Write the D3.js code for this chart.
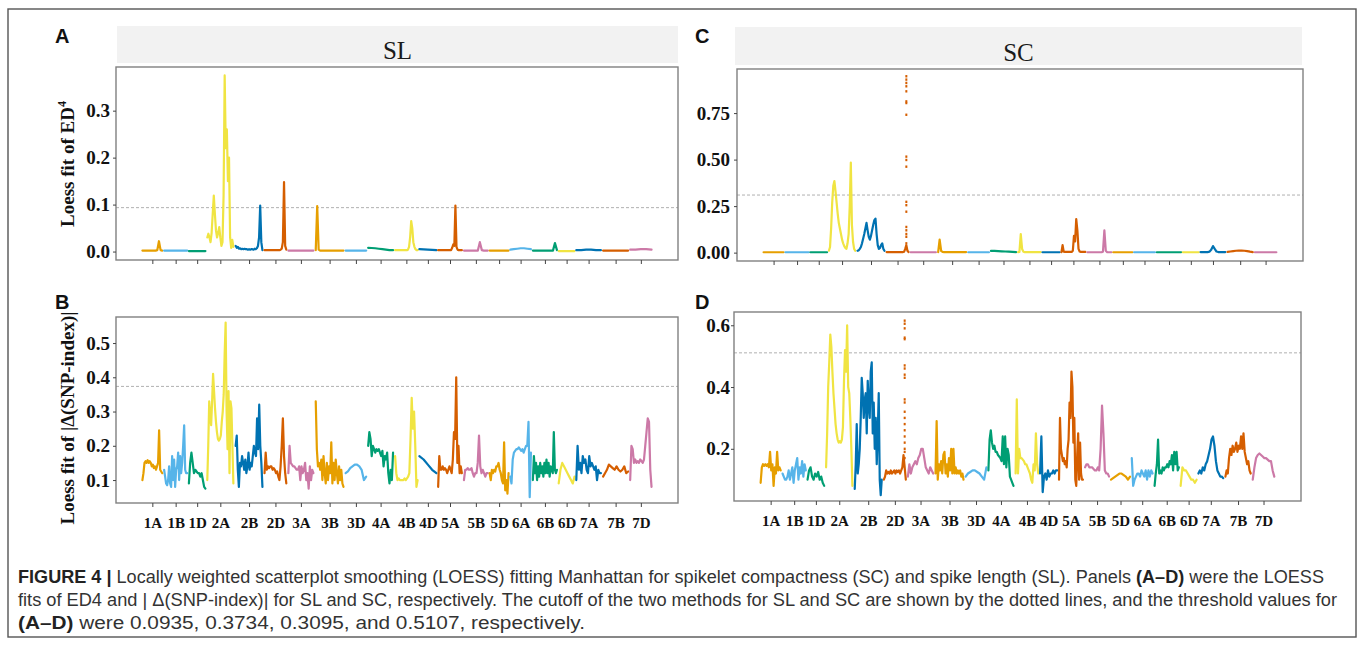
<!DOCTYPE html>
<html><head><meta charset="utf-8">
<script src="https://cdn.jsdelivr.net/npm/d3@7"></script>
<style>body{margin:0;background:#fff} svg{display:block}</style>
</head><body>
<svg id="fig" width="1358" height="645"></svg>
<script>
// ---------------- data ----------------
const chromosomes = ["1A","1B","1D","2A","2B","2D","3A","3B","3D","4A","4B","4D","5A","5B","5D","6A","6B","6D","7A","7B","7D"];
const chromLengthMb = [594,690,495,781,801,652,751,831,616,745,674,510,710,714,566,618,721,474,737,751,639];
const palette = ["#E69F00","#56B4E9","#009E73","#F0E442","#0072B2","#D55E00","#CC79A7"];
const thresholds = [0.0935, 0.3734, 0.3095, 0.5107];
const yTicksED4SL = [0, 0.1, 0.2, 0.3];
const yTicksSnpSL = [0.1, 0.2, 0.3, 0.4, 0.5];
const yTicksED4SC = [0, 0.25, 0.5, 0.75];
const yTicksSnpSC = [0.2, 0.4, 0.6];

// Loess fit of ED4, SL (panel A)
const ed4SL = [
 [0.002,0.002,0.002,0.002,0.002,0.002,0.002,0.002,0.002,0.003,0.022,0.003,0.002],
 [0.002,0.002,0.002,0.002,0.002,0.002],
 [0.001,0.001,0.001,0.001,0.001],
 [0.03,0.038,0.03,0.02,0.04,0.08,0.119,0.08,0.045,0.03,0.04,0.052,0.03,0.012,0.02,0.12,0.375,0.22,0.26,0.15,0.2,0.03,0.008,0.025,0.01],
 [0.012,0.008,0.01,0.006,0.007,0.005,0.006,0.005,0.006,0.005,0.005,0.004,0.005,0.004,0.005,0.005,0.004,0.006,0.005,0.007,0.012,0.03,0.098,0.02,0.003],
 [0.003,0.003,0.003,0.003,0.003,0.003,0.003,0.003,0.003,0.003,0.003,0.003,0.003,0.003,0.004,0.006,0.02,0.148,0.012,0.004],
 [0.002,0.002,0.002,0.002,0.002,0.002],
 [0.003,0.097,0.004,0.002,0.002,0.002,0.002,0.002,0.002,0.002,0.002,0.002,0.002,0.002,0.002,0.002,0.002,0.002,0.002,0.002],
 [0.002,0.002,0.002,0.002,0.002,0.002],
 [0.008,0.0075,0.007,0.006,0.005,0.004,0.003,0.003],
 [0.003,0.003,0.003,0.003,0.003,0.003,0.003,0.003,0.003,0.003,0.003,0.003,0.004,0.01,0.03,0.065,0.05,0.02,0.01,0.005,0.003,0.003],
 [0.005,0.0045,0.004,0.0035,0.003],
 [0.003,0.003,0.003,0.003,0.003,0.003,0.003,0.003,0.003,0.003,0.003,0.003,0.003,0.008,0.015,0.012,0.098,0.01,0.004,0.003,0.003,0.003,0.003],
 [0.002,0.002,0.002,0.002,0.002,0.002,0.002,0.002,0.02,0.003,0.002,0.002,0.002],
 [0.002,0.002,0.002,0.002,0.002],
 [0.004,0.005,0.006,0.007,0.007,0.006,0.005],
 [0.002,0.002,0.002,0.002,0.002,0.002,0.002,0.002,0.002,0.002,0.002,0.018,0.003],
 [0.001,0.001,0.001,0.001,0.001],
 [0.003,0.003,0.004,0.004,0.003,0.003],
 [0.002,0.002,0.002,0.002,0.002,0.002],
 [0.004,0.004,0.005,0.005,0.004]
];

// Loess fit of |delta(SNP-index)|, SL (panel B)
const snpSL = [
 [0.10,0.12,0.15,0.155,0.15,0.158,0.15,0.155,0.15,0.14,0.145,0.135,0.14,0.13,0.14,0.15,0.245,0.13,0.125,0.12],
 [0.13,0.11,0.09,0.085,0.10,0.14,0.09,0.08,0.17,0.10,0.16,0.08,0.13,0.14,0.18,0.10,0.17,0.12,0.15,0.20,0.26,0.13,0.12,0.12],
 [0.09,0.15,0.18,0.15,0.12,0.13,0.125,0.12,0.12,0.11,0.12,0.10,0.08,0.075],
 [0.10,0.20,0.33,0.29,0.26,0.33,0.41,0.36,0.31,0.27,0.24,0.22,0.215,0.22,0.23,0.27,0.30,0.35,0.47,0.56,0.30,0.19,0.36,0.12,0.33,0.31,0.20,0.09],
 [0.20,0.23,0.13,0.08,0.15,0.14,0.17,0.15,0.13,0.16,0.12,0.14,0.18,0.13,0.15,0.14,0.17,0.20,0.18,0.17,0.28,0.19,0.32,0.20,0.15,0.08],
 [0.12,0.18,0.13,0.14,0.135,0.14,0.14,0.13,0.135,0.13,0.12,0.125,0.11,0.10,0.14,0.20,0.28,0.17,0.12,0.09],
 [0.12,0.20,0.15,0.145,0.14,0.14,0.135,0.13,0.13,0.14,0.10,0.14,0.12,0.13,0.15,0.10,0.12,0.075,0.14,0.10,0.13,0.12],
 [0.33,0.19,0.14,0.15,0.13,0.16,0.10,0.17,0.12,0.09,0.15,0.10,0.14,0.12,0.21,0.09,0.15,0.10,0.16,0.12,0.09,0.14,0.10,0.13,0.09,0.08],
 [0.12,0.125,0.135,0.14,0.145,0.145,0.14,0.13,0.10,0.11],
 [0.20,0.24,0.22,0.17,0.20,0.19,0.18,0.19,0.185,0.19,0.18,0.17,0.185,0.14,0.17,0.16,0.18,0.12,0.09,0.13,0.10,0.18],
 [0.17,0.12,0.10,0.105,0.10,0.10,0.10,0.10,0.105,0.10,0.105,0.11,0.12,0.22,0.34,0.25,0.30,0.20,0.08,0.10],
 [0.17,0.16,0.145,0.13,0.12],
 [0.08,0.17,0.13,0.13,0.14,0.13,0.135,0.13,0.12,0.13,0.14,0.13,0.12,0.16,0.24,0.22,0.40,0.15,0.20,0.12,0.14,0.12],
 [0.10,0.13,0.13,0.135,0.13,0.13,0.135,0.12,0.11,0.12,0.12,0.15,0.23,0.14,0.12,0.13,0.12,0.11,0.12,0.12],
 [0.12,0.10,0.13,0.12,0.13,0.125,0.14,0.14,0.15,0.13,0.12,0.10,0.09,0.21,0.07,0.10,0.06,0.12],
 [0.11,0.09,0.16,0.18,0.185,0.19,0.19,0.195,0.19,0.185,0.19,0.18,0.19,0.20,0.20,0.27,0.05,0.18],
 [0.10,0.17,0.12,0.15,0.10,0.14,0.11,0.15,0.12,0.14,0.11,0.15,0.12,0.16,0.12,0.15,0.11,0.14,0.13,0.12,0.24,0.13,0.12,0.13],
 [0.09,0.13,0.15,0.14,0.13,0.12,0.11,0.10,0.09,0.11],
 [0.10,0.20,0.13,0.15,0.12,0.17,0.15,0.16,0.13,0.12,0.17,0.14,0.15,0.14,0.13,0.14,0.10,0.13,0.12,0.12],
 [0.11,0.12,0.13,0.145,0.14,0.135,0.13,0.14,0.13,0.125,0.13,0.14,0.12,0.125],
 [0.10,0.20,0.19,0.15,0.16,0.15,0.155,0.15,0.16,0.155,0.15,0.16,0.20,0.24,0.28,0.27,0.13,0.08]
];

// Loess fit of ED4, SC (panel C)
const ed4SC = [
 [0.002,0.002,0.002,0.002,0.002,0.002],
 [0.002,0.002,0.002,0.002,0.002,0.002],
 [0.002,0.002,0.002,0.002,0.002],
 [0.01,0.03,0.13,0.27,0.36,0.385,0.33,0.27,0.21,0.16,0.13,0.10,0.07,0.05,0.035,0.025,0.02,0.05,0.10,0.25,0.484,0.15,0.06,0.02,0.01],
 [0.01,0.012,0.02,0.03,0.05,0.075,0.10,0.13,0.16,0.12,0.085,0.07,0.09,0.12,0.15,0.175,0.183,0.10,0.04,0.02,0.025,0.04,0.05,0.02,0.01],
 [0.003,0.003,0.003,0.003,0.003,0.003,0.003,0.003,0.003,0.003,0.003,0.003,0.003,0.003,0.003,0.003,0.005,0.02,0.04,0.01,0.003],
 [0.002,0.002,0.002,0.002,0.002,0.002],
 [0.003,0.07,0.01,0.004,0.003,0.003,0.003,0.003,0.003,0.003,0.003,0.003,0.003,0.003,0.003,0.003,0.003,0.003,0.003,0.003],
 [0.002,0.002,0.002,0.002,0.002,0.002],
 [0.009,0.009,0.008,0.007,0.006,0.005,0.004,0.003],
 [0.003,0.004,0.10,0.02,0.005,0.003,0.003,0.003,0.003,0.003,0.003,0.003,0.003,0.003,0.003,0.003,0.003,0.003],
 [0.002,0.002,0.002,0.002,0.002],
 [0.003,0.04,0.005,0.004,0.004,0.004,0.004,0.004,0.004,0.004,0.01,0.09,0.06,0.18,0.12,0.02,0.006,0.004,0.004,0.004,0.004,0.004],
 [0.002,0.002,0.002,0.002,0.002,0.002,0.002,0.002,0.002,0.002,0.002,0.005,0.12,0.01,0.002,0.002,0.002,0.002],
 [0.002,0.002,0.002,0.002,0.002],
 [0.002,0.002,0.002,0.002,0.002],
 [0.002,0.002,0.002,0.002,0.002,0.002],
 [0.002,0.002,0.002,0.002],
 [0.003,0.003,0.003,0.003,0.003,0.005,0.015,0.035,0.02,0.006,0.003,0.003,0.003,0.003,0.003],
 [0.004,0.006,0.008,0.01,0.011,0.011,0.01,0.008,0.005,0.003],
 [0.002,0.002,0.002,0.002,0.002,0.002]
];
// sparse scatter of the 2D peak (panel C), drawn at point index 18 of 2D
const ed4SC2DPeak = [0.948,0.93,0.912,0.894,0.867,0.813,0.804,0.741,0.516,0.498,0.462,0.273,0.255,0.22,0.138,0.12,0.10,0.085,0.05];

// Loess fit of |delta(SNP-index)|, SC (panel D)
const snpSC = [
 [0.09,0.14,0.15,0.145,0.15,0.145,0.15,0.14,0.19,0.13,0.15,0.08,0.14,0.12,0.19,0.13,0.14,0.13],
 [0.12,0.11,0.10,0.10,0.11,0.13,0.10,0.12,0.14,0.09,0.13,0.15,0.17,0.10,0.14,0.12,0.16,0.11,0.15,0.13],
 [0.10,0.13,0.14,0.11,0.10,0.12,0.11,0.125,0.10,0.11,0.09,0.08],
 [0.14,0.25,0.40,0.48,0.57,0.53,0.45,0.38,0.33,0.28,0.25,0.23,0.22,0.225,0.22,0.23,0.27,0.42,0.52,0.45,0.60,0.40,0.38,0.30,0.20,0.08],
 [0.07,0.15,0.28,0.12,0.15,0.20,0.30,0.43,0.38,0.30,0.36,0.38,0.25,0.42,0.34,0.30,0.45,0.48,0.25,0.35,0.20,0.30,0.15,0.25,0.38,0.10,0.05,0.10],
 [0.10,0.11,0.13,0.12,0.125,0.12,0.13,0.12,0.125,0.13,0.12,0.13,0.125,0.13,0.12,0.13,0.14,0.18,0.14,0.10],
 [0.11,0.15,0.12,0.14,0.15,0.16,0.15,0.17,0.18,0.20,0.20,0.17,0.14,0.13,0.12,0.14,0.13,0.12],
 [0.12,0.29,0.10,0.15,0.13,0.16,0.12,0.18,0.19,0.12,0.15,0.11,0.17,0.13,0.20,0.12,0.20,0.12,0.14,0.12,0.13,0.12,0.13,0.11,0.12,0.10],
 [0.11,0.12,0.125,0.13,0.13,0.125,0.12,0.11,0.10,0.14],
 [0.13,0.23,0.26,0.22,0.20,0.21,0.19,0.19,0.18,0.175,0.17,0.16,0.24,0.15,0.24,0.14,0.20,0.18,0.11,0.10,0.09,0.08],
 [0.12,0.36,0.12,0.20,0.17,0.17,0.165,0.16,0.15,0.15,0.14,0.13,0.12,0.10,0.09,0.15,0.13,0.25,0.15,0.12],
 [0.12,0.24,0.06,0.11,0.12,0.10,0.13,0.11,0.12,0.12,0.13,0.12,0.13,0.13],
 [0.10,0.30,0.20,0.18,0.16,0.17,0.15,0.16,0.14,0.20,0.23,0.35,0.30,0.45,0.40,0.22,0.30,0.10,0.08,0.18,0.25,0.10,0.22,0.12,0.10,0.10],
 [0.14,0.15,0.15,0.14,0.14,0.14,0.135,0.13,0.13,0.14,0.13,0.20,0.34,0.25,0.13,0.12,0.12,0.11],
 [0.10,0.105,0.11,0.115,0.12,0.12,0.115,0.11,0.10,0.11],
 [0.17,0.08,0.10,0.11,0.12,0.12,0.11,0.13,0.12,0.11,0.13,0.10,0.13,0.11,0.13,0.12],
 [0.08,0.12,0.15,0.23,0.12,0.13,0.12,0.14,0.13,0.14,0.14,0.15,0.14,0.16,0.15,0.18,0.13,0.19,0.15,0.19,0.13,0.14],
 [0.08,0.14,0.13,0.13,0.12,0.11,0.10,0.10,0.09,0.10],
 [0.12,0.13,0.12,0.14,0.13,0.15,0.16,0.18,0.20,0.23,0.24,0.21,0.16,0.13,0.12,0.11,0.11,0.105],
 [0.11,0.13,0.12,0.17,0.20,0.18,0.21,0.19,0.20,0.22,0.19,0.21,0.20,0.24,0.20,0.25,0.19,0.17,0.15,0.16,0.13,0.12],
 [0.10,0.14,0.17,0.18,0.185,0.18,0.175,0.17,0.17,0.165,0.16,0.16,0.13,0.11]
];
// sparse scatter of the 2D peak (panel D), drawn at point index 18 of 2D
const snpSC2DPeak = [0.615,0.605,0.59,0.56,0.555,0.47,0.46,0.44,0.43,0.36,0.35,0.32,0.30,0.28,0.26,0.24,0.22,0.20,0.19,0.17];

// ---------------- drawing ----------------
const svg = d3.select("#fig");
const serif = "'Liberation Serif','Times New Roman',Times,serif";
const sans = "'Liberation Sans',Arial,Helvetica,sans-serif";
const capFont = "'Liberation Sans Narrow','Arial Narrow','Liberation Sans',Arial,sans-serif";

svg.append("rect").attr("x",8).attr("y",9).attr("width",1348).attr("height",628)
  .attr("fill","none").attr("stroke","#555").attr("stroke-width",1.4);

const chromStart = Array.from(d3.cumsum([0].concat(chromLengthMb.slice(0,-1))));
const totalMb = d3.sum(chromLengthMb);
const chromMid = chromLengthMb.map((l,i)=>chromStart[i]+l/2);

const panels = [
 {letter:"A", lx:55, ly:43, strip:"SL", stripBox:[117,26,678,63], box:[116,67,678,260], yDomain:[-0.018,0.393],
  ticks:yTicksED4SL, fmt:".1f", series:ed4SL, thr:thresholds[0], xlab:false, labelRight:110, title:"ed4", tx:74, ty:164},
 {letter:"B", lx:55, ly:309, box:[116,317,678,503], yDomain:[0.033,0.576],
  ticks:yTicksSnpSL, fmt:".1f", series:snpSL, thr:thresholds[1], xlab:true, labelRight:110, title:"snp", tx:74, ty:418},
 {letter:"C", lx:695, ly:43, strip:"SC", stripBox:[735,27,1302,65], box:[737,69,1303,261], yDomain:[-0.045,0.987],
  ticks:yTicksED4SC, fmt:".2f", series:ed4SC, thr:thresholds[2], xlab:false, labelRight:730, peak:ed4SC2DPeak},
 {letter:"D", lx:695, ly:309, box:[734,312,1301,501], yDomain:[0.031,0.643],
  ticks:yTicksSnpSC, fmt:".1f", series:snpSC, thr:thresholds[3], xlab:true, labelRight:730, peak:snpSC2DPeak}
];

panels.forEach(p=>{
  const [x0,y0,x1,y1] = p.box;
  const x = d3.scaleLinear().domain([-0.05*totalMb, 1.05*totalMb]).range([x0,x1]);
  const y = d3.scaleLinear().domain(p.yDomain).range([y1,y0]);
  const g = svg.append("g");

  svg.append("text").attr("x",p.lx).attr("y",p.ly).text(p.letter)
    .attr("font-family",sans).attr("font-weight","bold").attr("font-size",20).attr("fill","#111");

  if(p.strip){
    const [sx0,sy0,sx1,sy1]=p.stripBox;
    svg.append("rect").attr("x",sx0).attr("y",sy0).attr("width",sx1-sx0).attr("height",sy1-sy0).attr("fill","#f2f2f2");
    svg.append("text").attr("x",(sx0+sx1)/2).attr("y",sy1-4).attr("text-anchor","middle")
      .attr("font-family",serif).attr("font-size",25).attr("fill","#1a1a1a").text(p.strip);
  }

  g.append("line").attr("x1",x0).attr("x2",x1).attr("y1",y(p.thr)).attr("y2",y(p.thr))
    .attr("stroke","#b0b0b0").attr("stroke-width",1).attr("stroke-dasharray","3,2");

  const line = d3.line().x(d=>x(d[0])).y(d=>y(d[1]));
  p.series.forEach((vals,ci)=>{
    const n = vals.length;
    const pts = vals.map((v,i)=>[chromStart[ci]+chromLengthMb[ci]*(0.04+0.92*i/(n-1)), v]);
    g.append("path").attr("d",line(pts)).attr("fill","none")
      .attr("stroke",palette[ci%7]).attr("stroke-width",2.2).attr("stroke-linejoin","round").attr("stroke-linecap","round");
    if(p.peak && chromosomes[ci]==="2D"){
      const px = pts[18][0];
      g.selectAll(null).data(p.peak).join("rect")
        .attr("x",x(px)-1).attr("y",d=>y(d)-1.2).attr("width",2).attr("height",2.4)
        .attr("fill",palette[ci%7]);
    }
  });

  svg.append("rect").attr("x",x0).attr("y",y0).attr("width",x1-x0).attr("height",y1-y0)
    .attr("fill","none").attr("stroke","#808080").attr("stroke-width",1.4);

  const ya = svg.append("g").attr("transform",`translate(${x0},0)`)
    .call(d3.axisLeft(y).tickValues(p.ticks).tickFormat(d3.format(p.fmt)).tickSize(3).tickPadding(x0-p.labelRight-3));
  ya.select(".domain").remove();
  ya.selectAll("line").attr("stroke","#444");
  ya.selectAll("text").attr("font-family",serif).attr("font-weight","bold").attr("font-size",19).attr("fill","#111");

  const xa = svg.append("g").attr("transform",`translate(0,${y1})`)
    .call(d3.axisBottom(x).tickValues(chromMid).tickFormat((d,i)=>p.xlab?chromosomes[i]:"").tickSize(4).tickPadding(10));
  xa.select(".domain").remove();
  xa.selectAll("line").attr("stroke","#444");
  xa.selectAll("text").attr("font-family",serif).attr("font-weight","bold").attr("font-size",15).attr("fill","#111");

  if(p.title){
    const t = svg.append("text").attr("transform",`translate(${p.tx},${p.ty}) rotate(-90)`)
      .attr("text-anchor","middle").attr("font-family",serif).attr("font-weight","bold").attr("font-size",19).attr("fill","#111");
    if(p.title==="ed4"){
      t.append("tspan").text("Loess fit of ED");
      t.append("tspan").attr("font-size",12).attr("dy",-8).text("4");
    } else {
      t.text("Loess fit of |\u0394(SNP-index)|");
    }
  }
});

// caption
const cap = svg.append("g").attr("font-family",capFont).attr("font-size",17.5).attr("fill","#333");
const l1 = cap.append("text").attr("x",18).attr("y",583).attr("textLength",1306).attr("lengthAdjust","spacingAndGlyphs");
l1.append("tspan").attr("font-weight","bold").attr("fill","#222").text("FIGURE 4 |");
l1.append("tspan").text(" Locally weighted scatterplot smoothing (LOESS) fitting Manhattan for spikelet compactness (SC) and spike length (SL). Panels ");
l1.append("tspan").attr("font-weight","bold").attr("fill","#222").text("(A\u2013D)");
l1.append("tspan").text(" were the LOESS");
cap.append("text").attr("x",18).attr("y",606).attr("textLength",1319).attr("lengthAdjust","spacingAndGlyphs")
  .text("fits of ED4 and | \u0394(SNP-index)| for SL and SC, respectively. The cutoff of the two methods for SL and SC are shown by the dotted lines, and the threshold values for");
const l3 = cap.append("text").attr("x",18).attr("y",629).attr("textLength",567).attr("lengthAdjust","spacingAndGlyphs");
l3.append("tspan").attr("font-weight","bold").attr("fill","#222").text("(A\u2013D)");
l3.append("tspan").text(" were 0.0935, 0.3734, 0.3095, and 0.5107, respectively.");
</script></body></html>
